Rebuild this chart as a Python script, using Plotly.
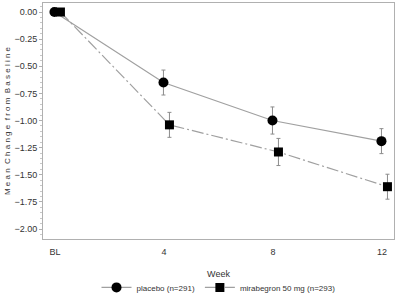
import plotly.graph_objects as go

weeks = [0, 4, 8, 12]
tick_labels = ["BL", "4", "8", "12"]
placebo = [0.00, -0.65, -1.00, -1.19]
placebo_err = [0.0, 0.115, 0.125, 0.115]
mira = [0.00, -1.04, -1.29, -1.61]
mira_err = [0.0, 0.115, 0.125, 0.115]
offset = 0.2

fig = go.Figure()
fig.add_trace(go.Scatter(
    x=[w - 0.02 for w in weeks], y=placebo, mode="lines+markers",
    name="placebo (n=291)",
    line=dict(color="#a0a0a0", width=1.2, dash="solid"),
    marker=dict(symbol="circle", size=10, color="black"),
    error_y=dict(type="data", array=placebo_err, color="#8c8c8c", thickness=1, width=2),
))
fig.add_trace(go.Scatter(
    x=[w + offset for w in weeks], y=mira, mode="lines+markers",
    name="mirabegron 50 mg (n=293)",
    line=dict(color="#a0a0a0", width=1.2, dash="12px,3px,2px,3px"),
    marker=dict(symbol="square", size=9, color="black"),
    error_y=dict(type="data", array=mira_err, color="#8c8c8c", thickness=1, width=2),
))

fig.update_layout(
    width=400, height=296,
    margin=dict(l=43, r=6, t=3, b=57, autoexpand=False),
    plot_bgcolor="white", paper_bgcolor="white",
    font=dict(family="Liberation Sans, Arial, sans-serif", size=9, color="#333"),
    showlegend=True,
    legend=dict(orientation="h", x=0.5, xanchor="center", y=-0.205, yanchor="middle",
                font=dict(size=8), itemwidth=30, tracegroupgap=0,
                bgcolor="rgba(0,0,0,0)", borderwidth=0),
    xaxis=dict(
        range=[-0.44, 12.44], tickmode="array", tickvals=weeks, ticktext=tick_labels,
        showgrid=False, zeroline=False, showline=True, linecolor="#b0b0b0", mirror=True,
        ticks="", ticklabelstandoff=4,
        title=dict(text="Week", standoff=14, font=dict(size=9)),
    ),
    yaxis=dict(
        range=[-2.092, 0.083], tickmode="array",
        tickvals=[0, -0.25, -0.5, -0.75, -1.0, -1.25, -1.5, -1.75, -2.0],
        ticktext=["0.00", "\u22120.25", "\u22120.50", "\u22120.75", "\u22121.00",
                  "\u22121.25", "\u22121.50", "\u22121.75", "\u22122.00"],
        showgrid=False, zeroline=False, showline=True, linecolor="#b0b0b0", mirror=True,
        ticks="outside", ticklen=3, tickcolor="#b0b0b0",
        minor=dict(ticks="outside", ticklen=2, dtick=0.05, tickcolor="#c8c8c8"),
        title=dict(text="M e a n  C h a n g e  f r o m  B a s e l i n e", standoff=2, font=dict(size=8)),
    ),
)

fig.write_html("out.html")
